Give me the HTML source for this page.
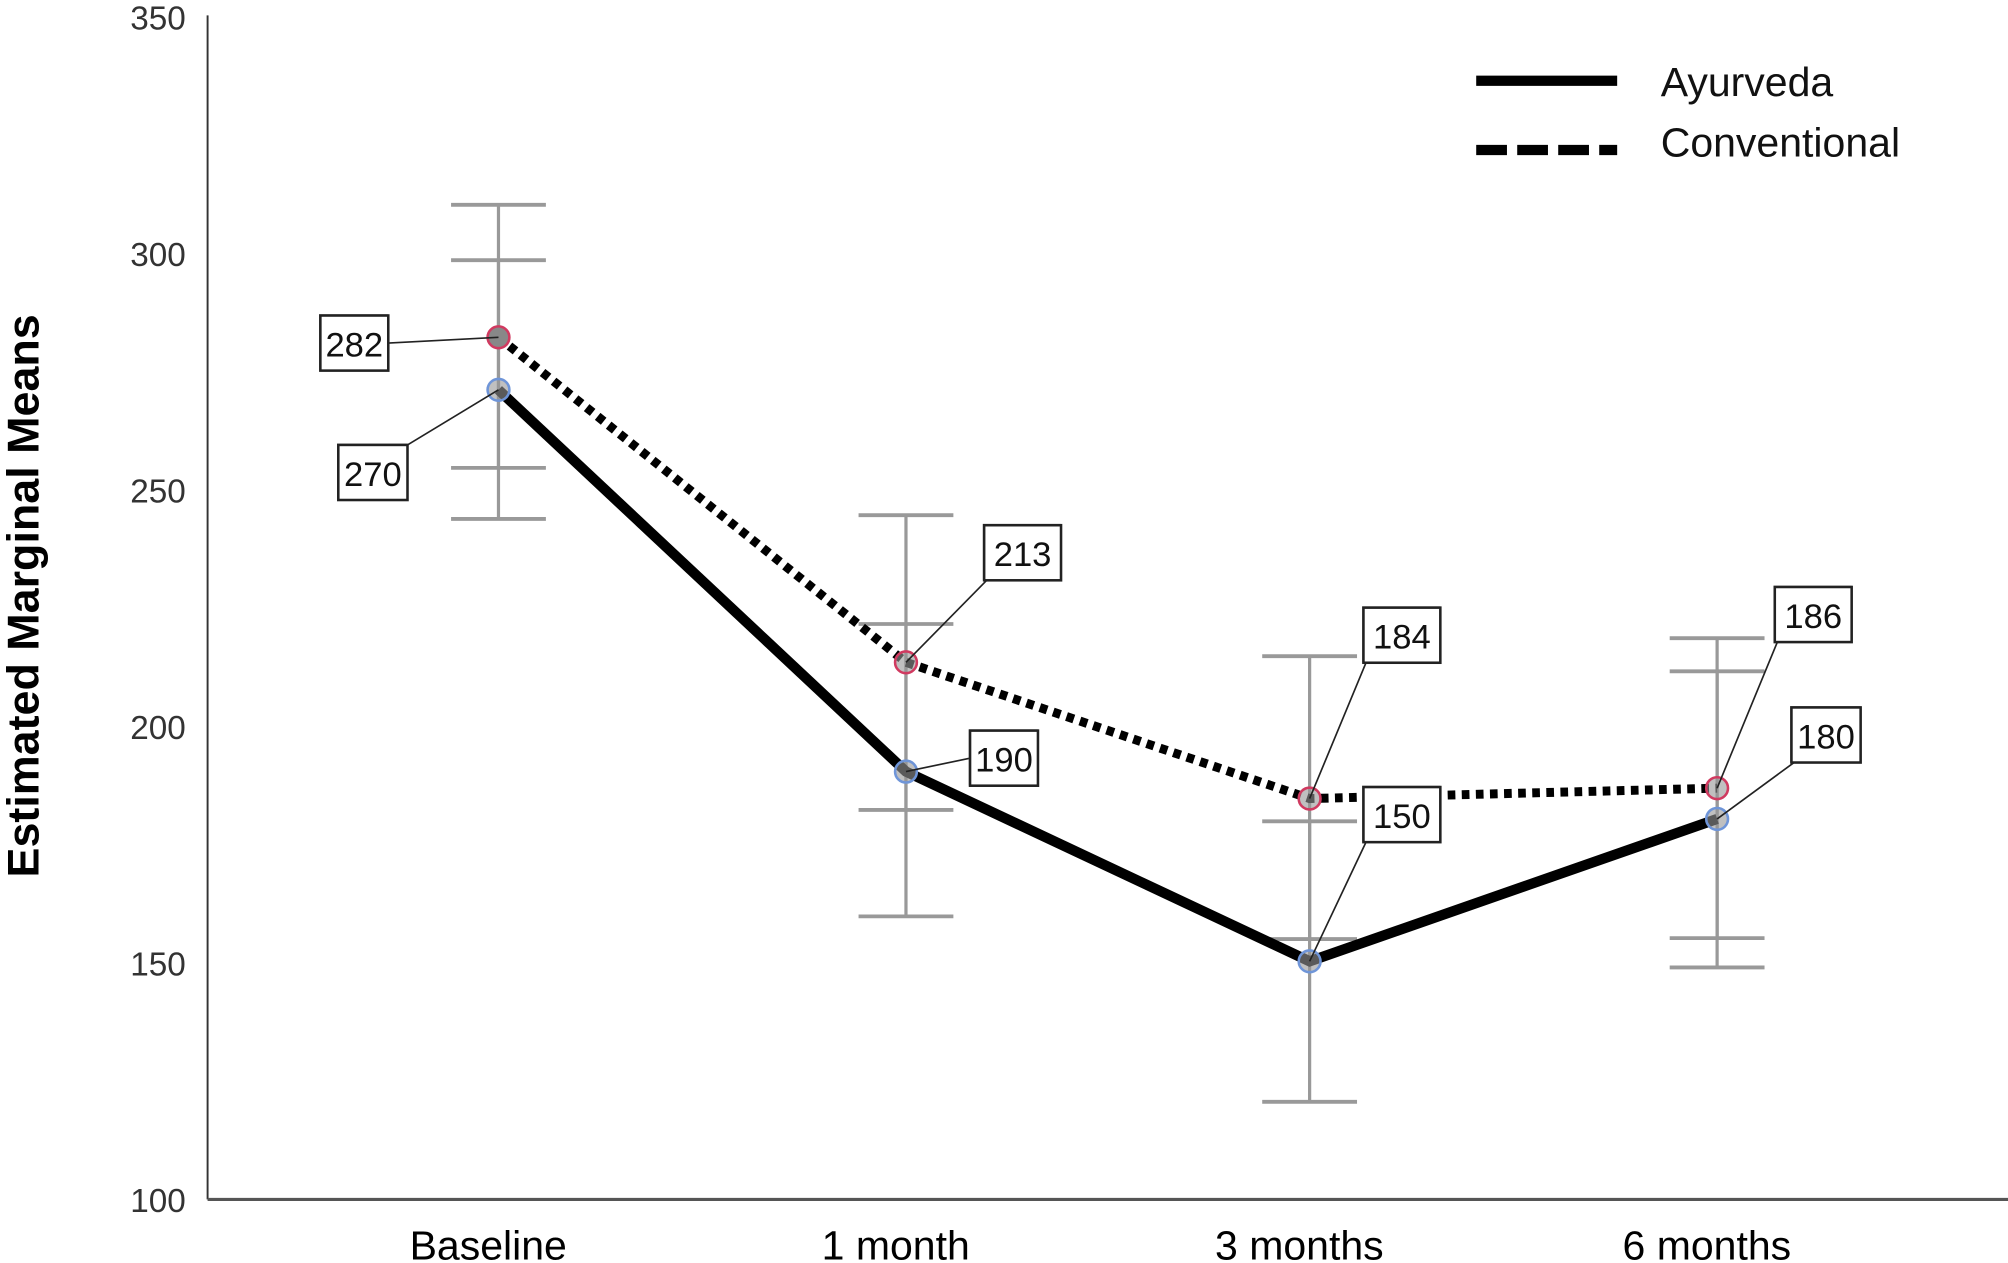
<!DOCTYPE html>
<html><head><meta charset="utf-8"><style>
html,body{margin:0;padding:0;background:#fff;}
svg{display:block;}
text{font-family:"Liberation Sans",sans-serif;}
</style></head><body>
<svg id="chart" width="2008" height="1263" viewBox="0 0 1567 985.6" xmlns="http://www.w3.org/2000/svg">
<rect width="1567" height="985.6" fill="#fff"/>
<g id="axes"></g>
<g id="errs"></g>
<g id="lines"></g>
<g id="labels"></g>
<g id="legend">
  <line x1="1152" y1="63" x2="1262" y2="63" stroke="#000" stroke-width="8"/>
  <text x="1296" y="75" font-size="32" fill="#111">Ayurveda</text>
  <line x1="1152" y1="117" x2="1262" y2="117" stroke="#000" stroke-width="8" stroke-dasharray="24 8"/>
  <text x="1296" y="122" font-size="32" fill="#111">Conventional</text>
</g>
<text x="0" y="0" transform="translate(30,465) rotate(-90)" text-anchor="middle" font-size="35" font-weight="bold" fill="#000">Estimated Marginal Means</text>
</svg>
<script>
const categories = ["Baseline", "1 month", "3 months", "6 months"];
const ayurvedaValues = [271.4, 190.7, 150.6, 180.7];
const conventionalValues = [282.5, 213.8, 185.0, 187.2];
const ayurvedaLow = [244.1, 160.1, 120.9, 149.3];
const ayurvedaHigh = [298.8, 221.9, 180.2, 211.9];
const conventionalLow = [254.9, 182.6, 155.3, 155.5];
const conventionalHigh = [310.5, 244.9, 215.1, 218.9];
const ayurvedaLabels = ["270", "190", "150", "180"];
const conventionalLabels = ["282", "213", "184", "186"];
const yTicks = [100, 150, 200, 250, 300, 350];

const NS = "http://www.w3.org/2000/svg";
const X0 = 162, X1 = 1567, Y100 = 937, PX = 3.692;
function yScale(v){ return Y100 - (v - 100) * PX; }
const catX = [389, 707, 1022, 1340];
function xScale(i){ return catX[i]; }
function mk(tag, attrs, parent){
  const e = document.createElementNS(NS, tag);
  for (const k in attrs) e.setAttribute(k, attrs[k]);
  parent.appendChild(e);
  return e;
}
const axes = document.getElementById('axes');
let el = mk('line', {x1:X0, y1:12, x2:X0, y2:936, stroke:'#333', 'stroke-width':1.5}, axes);


el = mk('line', {x1:X0, y1:936, x2:X1, y2:936, stroke:'#555', 'stroke-width':2.5}, axes);


yTicks.forEach(t => {
  const e = mk('text', {x:145, y:yScale(t)+9, 'text-anchor':'end', 'font-size':26, fill:'#333'}, axes);
  e.textContent = t;
  
  
});
categories.forEach((c, i) => {
  const e = mk('text', {x:xScale(i)-8, y:983, 'text-anchor':'middle', 'font-size':32, fill:'#000'}, axes);
  e.textContent = c;
  
  
});
const errs = document.getElementById('errs');
function errBar(i, lo, hi){
  const x = xScale(i);
  let e = mk('line', {x1:x, y1:yScale(hi), x2:x, y2:yScale(lo), stroke:'#999', 'stroke-width':2.5}, errs);
  
  
  [lo, hi].forEach(v => {
    const c = mk('line', {x1:x-37, y1:yScale(v), x2:x+37, y2:yScale(v), stroke:'#999', 'stroke-width':3}, errs);
    
    
  });
}
categories.forEach((c, i) => { errBar(i, ayurvedaLow[i], ayurvedaHigh[i]); errBar(i, conventionalLow[i], conventionalHigh[i]); });

const lines = document.getElementById('lines');
function pts(vals){ return vals.map((v,i)=>xScale(i)+','+yScale(v)).join(' '); }
el = mk('polyline', {points:pts(conventionalValues), fill:'none', stroke:'#000', 'stroke-width':7, 'stroke-dasharray':'6 5'}, lines);


el = mk('polyline', {points:pts(ayurvedaValues), fill:'none', stroke:'#000', 'stroke-width':8, 'stroke-linejoin':'miter'}, lines);


conventionalValues.forEach((v,i)=>{
  const m = mk('circle', {cx:xScale(i), cy:yScale(v), r:8.5, fill: i===0?'#888':'rgba(150,150,150,0.6)', stroke:'#d03a60', 'stroke-width':2}, lines);
  
  
});
ayurvedaValues.forEach((v,i)=>{
  const m = mk('circle', {cx:xScale(i), cy:yScale(v), r:8.5, fill:'rgba(150,150,150,0.6)', stroke:'#6f95d8', 'stroke-width':2}, lines);
  
  
});

const conventionalBoxLayout = [[-139,-17,53,'r'],[61,-107,60,'bl'],[42,-149,60,'bl'],[45,-157,60,'bl']];
const ayurvedaBoxLayout = [[-125,43,54,'tr'],[50,-32,53,'l'],[42,-136,60,'bl'],[58,-87,54,'bl']];
const labelsG = document.getElementById('labels');
function drawLabel(i, v, txt, lay){
  const px = xScale(i), py = yScale(v);
  const bx = px + lay[0], by = py + lay[1], w = lay[2], h = 43;
  let ax, ay;
  if (lay[3]==='r'){ ax = bx+w; ay = by+h/2; }
  else if (lay[3]==='l'){ ax = bx; ay = by+h/2; }
  else if (lay[3]==='tr'){ ax = bx+w; ay = by; }
  else { ax = bx+2; ay = by+h; }
  const l = mk('line', {x1:ax, y1:ay, x2:px, y2:py, stroke:'#222', 'stroke-width':1.3}, labelsG);
  
  
  const s = mk('rect', {x:bx-1, y:by-1, width:w+1, height:h+1, fill:'#777'}, labelsG);
  
  
  const r = mk('rect', {x:bx, y:by, width:w, height:h, fill:'#fff', stroke:'#222', 'stroke-width':2}, labelsG);
  
  
  const t = mk('text', {x:bx+w/2, y:by+32, 'text-anchor':'middle', 'font-size':27, fill:'#111'}, labelsG);
  t.textContent = txt;
  
  
}
conventionalValues.forEach((v,i)=>drawLabel(i, v, conventionalLabels[i], conventionalBoxLayout[i]));
ayurvedaValues.forEach((v,i)=>drawLabel(i, v, ayurvedaLabels[i], ayurvedaBoxLayout[i]));
</script>
</body></html>
